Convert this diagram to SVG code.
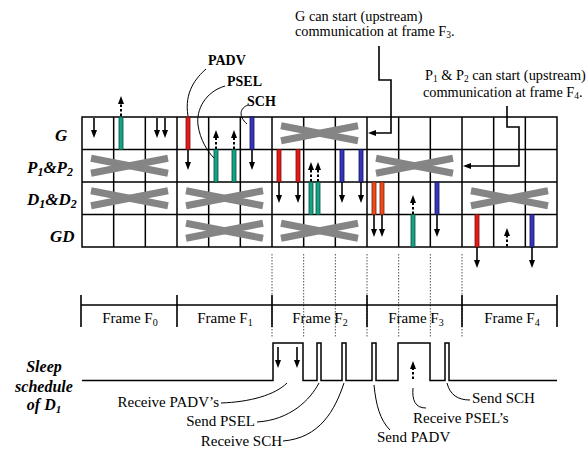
<svg xmlns="http://www.w3.org/2000/svg" width="587" height="449" viewBox="0 0 587 449">
<style>
text{font-family:"Liberation Serif","Times New Roman",serif;fill:#000}
.lbl{font-size:14.3px}
.tag{font-size:14px;font-weight:bold}
.row{font-size:17px;font-weight:bold;font-style:italic}
.fr{font-size:15px}
.sl{font-size:15px}
.ttl{font-size:16px;font-weight:bold;font-style:italic}
.grid{fill:none;stroke:#000;stroke-width:1.5}
.x{stroke:#858585;stroke-width:7}
.arr{stroke:#000;stroke-width:1.6;fill:none}
.dot{stroke:#000;stroke-width:2;stroke-dasharray:2.5 2;fill:none}
.lead{stroke:#000;stroke-width:1;fill:none}
.vd{stroke:#555;stroke-width:1;stroke-dasharray:1.5 1.5}
.g{fill:#12a585;stroke:#0a4a3a;stroke-width:0.8}
.r{fill:#e81818;stroke:#701010;stroke-width:0.8}
.b{fill:#3535c0;stroke:#101050;stroke-width:0.8}
.o{fill:#f04a18;stroke:#702010;stroke-width:0.8}
.wave{fill:none;stroke:#000;stroke-width:1.5}
</style>
<defs>
<marker id="ah" markerUnits="userSpaceOnUse" markerWidth="8" markerHeight="8" refX="4" refY="4" orient="auto" viewBox="0 0 8 8"><path d="M0,1 L8,4 L0,7 z" fill="#000"/></marker>
<g id="xm"><line class="x" x1="9" y1="-7.5" x2="86" y2="7.5"/><line class="x" x1="9" y1="7.5" x2="86" y2="-7.5"/></g>
</defs>

<g id="annotations">
<text class="lbl" x="295" y="21">G can start (upstream)</text>
<text class="lbl" x="295" y="36">communication at frame F<tspan dy="2" font-size="9.5">3</tspan><tspan dy="-2">.</tspan></text>
<text class="lbl" x="425" y="80">P<tspan dy="2" font-size="9.5">1</tspan><tspan dy="-2"> &amp; P</tspan><tspan dy="2" font-size="9.5">2</tspan><tspan dy="-2"> can start (upstream)</tspan></text>
<text class="lbl" x="423" y="97">communication at frame F<tspan dy="2" font-size="9.5">4</tspan><tspan dy="-2">.</tspan></text>
<text class="tag" x="208" y="65">PADV</text>
<text class="tag" x="227" y="86">PSEL</text>
<text class="tag" x="247" y="106">SCH</text>
</g>

<g id="row-labels">
<text class="row" x="55" y="141">G</text>
<text class="row" x="27" y="173">P<tspan dy="3" font-size="12">1</tspan><tspan dy="-3">&amp;P</tspan><tspan dy="3" font-size="12">2</tspan></text>
<text class="row" x="27" y="205">D<tspan dy="3" font-size="12">1</tspan><tspan dy="-3">&amp;D</tspan><tspan dy="3" font-size="12">2</tspan></text>
<text class="row" x="50" y="242">GD</text>
</g>

<g id="grid">
<rect class="grid" x="82" y="117" width="475" height="130"/>
<path class="grid" d="M82,149.5H557M82,182H557M82,214.5H557M113.67,117V247M145.33,117V247M177,117V247M208.67,117V247M240.33,117V247M272,117V247M303.67,117V247M335.33,117V247M367,117V247M398.67,117V247M430.33,117V247M462,117V247M493.67,117V247M525.33,117V247"/>
</g>

<g id="sleep-marks">
<use href="#xm" x="272" y="133.25"/>
<use href="#xm" x="82" y="165.75"/>
<use href="#xm" x="367" y="165.75"/>
<use href="#xm" x="82" y="198.25"/>
<use href="#xm" x="177" y="198.25"/>
<use href="#xm" x="462" y="198.25"/>
<use href="#xm" x="177" y="230.75"/>
<use href="#xm" x="272" y="230.75"/>
</g>

<g id="messages">
<rect class="g" x="119" y="117" width="4" height="32.5"/>
<rect class="r" x="186" y="117" width="4" height="32.5"/>
<rect class="b" x="250" y="117" width="4" height="32.5"/>
<rect class="g" x="214" y="149.5" width="4" height="32.5"/>
<rect class="g" x="232" y="149.5" width="4" height="32.5"/>
<rect class="r" x="277" y="149.5" width="4" height="32.5"/>
<rect class="r" x="296" y="149.5" width="4" height="32.5"/>
<rect class="b" x="340" y="149.5" width="4" height="32.5"/>
<rect class="b" x="359" y="149.5" width="4" height="32.5"/>
<rect class="g" x="309" y="182" width="4" height="32.5"/>
<rect class="g" x="316" y="182" width="4" height="32.5"/>
<rect class="o" x="372" y="182" width="4" height="32.5"/>
<rect class="o" x="380" y="182" width="4" height="32.5"/>
<rect class="b" x="435" y="182" width="4" height="32.5"/>
<rect class="g" x="411" y="214.5" width="4" height="32.5"/>
<rect class="r" x="475" y="214.5" width="4" height="32.5"/>
<rect class="b" x="530" y="214.5" width="4" height="32.5"/>
</g>

<g id="connectors">
<g marker-end="url(#ah)">
<line class="arr" x1="94" y1="118" x2="94" y2="134"/>
<line class="arr" x1="157" y1="118" x2="157" y2="134"/>
<line class="arr" x1="165" y1="118" x2="165" y2="134"/>
<line class="arr" x1="188" y1="150" x2="188" y2="166"/>
<line class="arr" x1="252" y1="150" x2="252" y2="166"/>
<line class="arr" x1="279" y1="182" x2="279" y2="199"/>
<line class="arr" x1="298" y1="182" x2="298" y2="199"/>
<line class="arr" x1="342" y1="182" x2="342" y2="199"/>
<line class="arr" x1="361" y1="182" x2="361" y2="199"/>
<line class="arr" x1="374" y1="215" x2="374" y2="233"/>
<line class="arr" x1="382" y1="215" x2="382" y2="233"/>
<line class="arr" x1="437" y1="215" x2="437" y2="233"/>
<line class="arr" x1="477" y1="247" x2="477" y2="264"/>
<line class="arr" x1="532" y1="247" x2="532" y2="264"/>
<line class="arr" x1="278" y1="347" x2="278" y2="364"/>
<line class="arr" x1="297" y1="347" x2="297" y2="364"/>
<line class="dot" x1="121" y1="116" x2="121" y2="100"/>
<line class="dot" x1="216" y1="149" x2="216" y2="134"/>
<line class="dot" x1="234" y1="149" x2="234" y2="134"/>
<line class="dot" x1="311" y1="181.5" x2="311" y2="166"/>
<line class="dot" x1="318" y1="181.5" x2="318" y2="166"/>
<line class="dot" x1="413" y1="214" x2="413" y2="199"/>
<line class="dot" x1="507" y1="246.5" x2="507" y2="232"/>
<line class="dot" x1="413" y1="379" x2="413" y2="365"/>
<path class="arr" stroke-width="1.5" d="M379,46V80H391V133H372"/>
<path class="arr" stroke-width="1.5" d="M507,106V127H519V166H467"/>
</g>
<path class="lead" d="M206,69C196,78 184,92 188,116"/>
<path class="lead" d="M225,86C205,92 196,110 198,125C200,140 208,152 214,158"/>
<path class="lead" d="M248,105C240,108 238,116 247,124"/>
<path class="lead" d="M221,403C250,402 275,395 287,383"/>
<path class="lead" d="M257,422C290,420 310,400 319,383"/>
<path class="lead" d="M283,441C320,438 335,410 344,383"/>
<path class="lead" d="M374,385C376,405 380,420 390,430"/>
<path class="lead" d="M413,388C412,400 415,408 426,408"/>
<path class="lead" d="M447,383C450,395 458,400 470,400"/>
</g>

<g id="dotted-guides">
<path class="vd" d="M272,254V338M303.67,254V338M335.33,254V338M367,254V338M398.67,254V338M430.33,254V338M462,254V338"/>
</g>

<g id="frames">
<path class="arr" stroke-width="1.2" d="M81,305H177M81,295V327M177,295V327"/>
<path class="arr" stroke-width="1.8" d="M177,305H557M462,295V327M557,295V327"/>
<path class="arr" stroke-width="2.2" d="M272,295V327M367,295V327"/>
<text class="fr" x="130" y="323" text-anchor="middle">Frame F<tspan dy="3" font-size="10">0</tspan></text>
<text class="fr" x="225" y="323" text-anchor="middle">Frame F<tspan dy="3" font-size="10">1</tspan></text>
<text class="fr" x="320" y="323" text-anchor="middle">Frame F<tspan dy="3" font-size="10">2</tspan></text>
<text class="fr" x="416" y="323" text-anchor="middle">Frame F<tspan dy="3" font-size="10">3</tspan></text>
<text class="fr" x="512" y="323" text-anchor="middle">Frame F<tspan dy="3" font-size="10">4</tspan></text>
</g>

<g id="sleep-schedule">
<text class="ttl" x="44" y="372" text-anchor="middle">Sleep</text>
<text class="ttl" x="44" y="392" text-anchor="middle">schedule</text>
<text class="ttl" x="44" y="410" text-anchor="middle">of D<tspan dy="3" font-size="11">1</tspan></text>
<path class="wave" d="M82,380.5H273V343H303V380.5H317V343H321V380.5H342V343H346V380.5H372V343H376V380.5H398V343H430V380.5H445V343H449V380.5H557"/>
<text class="sl" x="219" y="407" text-anchor="end">Receive PADV’s</text>
<text class="sl" x="255" y="426" text-anchor="end">Send PSEL</text>
<text class="sl" x="282" y="446" text-anchor="end">Receive SCH</text>
<text class="sl" x="377" y="442">Send PADV</text>
<text class="sl" x="413" y="423">Receive PSEL’s</text>
<text class="sl" x="472" y="403">Send SCH</text>
</g>
</svg>
